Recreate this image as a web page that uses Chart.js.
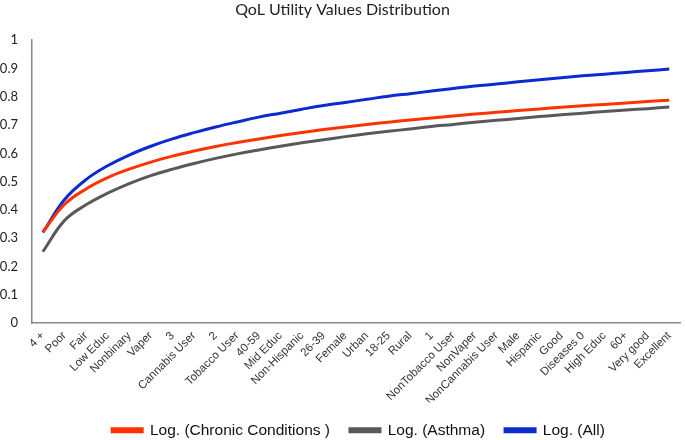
<!DOCTYPE html>
<html>
<head>
<meta charset="utf-8">
<script src="https://cdn.jsdelivr.net/npm/chart.js@4.4.1/dist/chart.umd.min.js"></script>
<style>
  html, body { margin: 0; padding: 0; background: #fff; }
  #wrap { width: 685px; height: 440px; }
</style>
</head>
<body>
<div id="wrap"><canvas id="chart" width="685" height="440"></canvas></div>
<script>
// categorias del eje x
const categorias = ["4 +", "Poor", "Fair", "Low Educ", "Nonbinary", "Vaper", "3", "Cannabis User", "2",
  "Tobacco User", "40-59", "Mid Educ", "Non-Hispanic", "26-39", "Female", "Urban", "18-25", "Rural", "1",
  "NonTobacco User", "NonVaper", "NonCannabis User", "Male", "Hispanic", "Good", "Diseases 0", "High Educ",
  "60+", "Very good", "Excellent"];

// valores
const cronicas = [0.322, 0.419, 0.474, 0.514, 0.544, 0.569, 0.590, 0.608, 0.624, 0.638,
  0.651, 0.663, 0.674, 0.684, 0.693, 0.702, 0.710, 0.718, 0.725, 0.732,
  0.739, 0.745, 0.751, 0.757, 0.763, 0.768, 0.773, 0.778, 0.783, 0.788];

const asma = [0.252, 0.362, 0.418, 0.459, 0.493, 0.521, 0.544, 0.564, 0.582, 0.598,
  0.612, 0.625, 0.637, 0.648, 0.659, 0.669, 0.678, 0.686, 0.695, 0.702,
  0.710, 0.717, 0.723, 0.730, 0.736, 0.742, 0.748, 0.753, 0.758, 0.764];

const todos = [0.320, 0.436, 0.507, 0.556, 0.594, 0.625, 0.651, 0.673, 0.693, 0.711,
  0.728, 0.742, 0.756, 0.769, 0.780, 0.791, 0.802, 0.811, 0.820, 0.829,
  0.838, 0.845, 0.853, 0.860, 0.867, 0.874, 0.880, 0.886, 0.892, 0.898];

const yTicks = [0, 0.1, 0.2, 0.3, 0.4, 0.5, 0.6, 0.7, 0.8, 0.9, 1];

const serie = (label, data, color) => ({
  label, data,
  borderColor: color,
  backgroundColor: color,
  borderWidth: 3,
  pointRadius: 0,
  tension: 0.4,
  fill: false
});

// corre la leyenda un poco a la derecha, como en la original
const moverLeyenda = {
  id: "moverLeyenda",
  afterLayout(chart) {
    chart.legend.left += 16;
    chart.legend.right += 16;
  }
};

new Chart(document.getElementById("chart"), {
  type: "line",
  data: {
    labels: categorias,
    datasets: [
      serie("Log. (Chronic Conditions )", cronicas, "#ff3300"),
      serie("Log. (Asthma)", asma, "#595959"),
      serie("Log. (All)", todos, "#0b2bd1")
    ]
  },
  plugins: [moverLeyenda],
  options: {
    responsive: false,
    animation: false,
    layout: { padding: { left: 0, right: 0, top: 0, bottom: -8 } },
    plugins: {
      title: {
        display: true,
        text: "QoL Utility Values Distribution",
        color: "#222",
        font: { family: "Lato", size: 16, weight: "normal" },
        padding: { top: 0, bottom: 21 }
      },
      legend: {
        position: "bottom",
        labels: {
          color: "#111",
          font: { family: "Liberation Sans", size: 15.5 },
          boxWidth: 30,
          boxHeight: 3,
          padding: 20
        }
      },
      tooltip: { enabled: false }
    },
    scales: {
      x: {
        offset: true,
        afterFit: (s) => { s.height = 79.5; },
        grid: { display: false, drawTicks: false },
        border: { display: true, color: "#888", width: 1.5 },
        ticks: {
          color: "#333",
          font: { family: "Liberation Sans", size: 11.5 },
          minRotation: 45,
          maxRotation: 45,
          autoSkip: false,
          padding: 6
        }
      },
      y: {
        min: 0,
        max: 1,
        afterBuildTicks: (s) => { s.ticks = yTicks.map(v => ({ value: v })); },
        afterFit: (s) => { s.width = 32; },
        grid: { display: false, drawTicks: false },
        border: { display: true, color: "#888", width: 1.5 },
        ticks: {
          color: "#222",
          font: { family: "Lato", size: 13 },
          padding: 14,
          callback: (v) => String(v)
        }
      }
    }
  }
});
</script>
</body>
</html>
